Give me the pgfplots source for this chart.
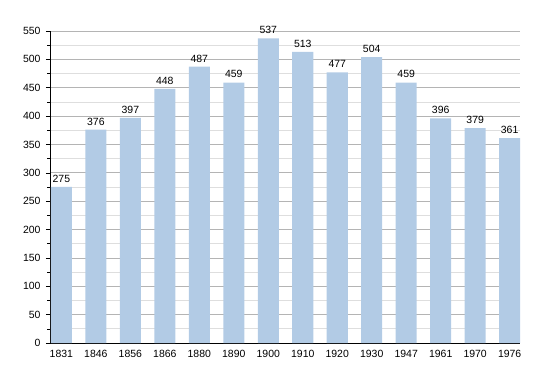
\documentclass[border=0pt]{standalone}
\usepackage{pgfplots}
\pgfplotsset{compat=1.18}
\usepackage{fontspec}
\setmainfont{Liberation Sans}
\definecolor{barc}{HTML}{B2CBE5}
\definecolor{majg}{HTML}{B4B4B4}
\definecolor{ming}{HTML}{DEDEDE}
\begin{document}
\begin{tikzpicture}
\begin{axis}[
  scale only axis, width=470bp, height=312bp,
  xmin=-0.33, xmax=13.3, ymin=0, ymax=550,
  axis x line=bottom, axis y line=left,
  axis line style={-, black, line width=1pt},
  xtick=data,
  xticklabels={1831,1846,1856,1866,1880,1890,1900,1910,1920,1930,1947,1961,1970,1976},
  ytick={0,50,...,550},
  minor y tick num=1,
  ymajorgrids, yminorgrids,
  major grid style={majg, line width=0.8pt},
  minor grid style={ming, line width=0.8pt},
  x tick style={draw=none},
  y tick style={black, line width=0.6pt},
  tick align=outside,
  major tick length=4bp, minor tick length=2.5bp,
  tick label style={font=\fontsize{10.5}{12}\selectfont},
  /pgf/number format/assume math mode=true,
  yticklabel style={xshift=-2bp},
  xticklabel style={yshift=0bp},
  clip=false,
  nodes near coords,
  every node near coord/.append style={font=\fontsize{10.5}{12}\selectfont, /pgf/number format/assume math mode=true, yshift=1bp},
]
\addplot[ybar, bar width=0.61, fill=barc, draw=none] coordinates {
(0,275) (1,376) (2,397) (3,448) (4,487) (5,459) (6,537) (7,513) (8,477) (9,504) (10,459) (11,396) (12,379) (13,361)
};
\end{axis}
\path (current axis.south west) ++(-50bp,-30bp) rectangle ++(550bp,373bp);
\end{tikzpicture}
\end{document}
